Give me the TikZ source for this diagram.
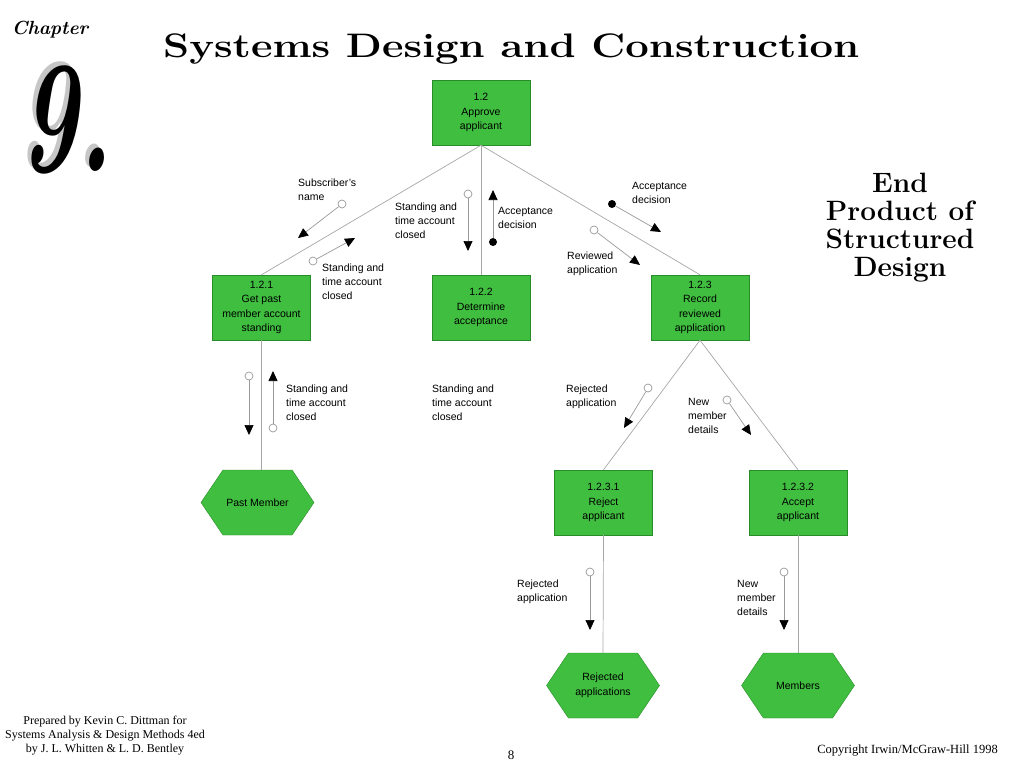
\documentclass[tikz,border=0pt]{standalone}
\usepackage{fontspec}
\setsansfont{Liberation Sans}
\newfontfamily\footfont{Liberation Serif}
\usetikzlibrary{arrows.meta,shapes.symbols}
\definecolor{procgreen}{RGB}{64,190,64}
\definecolor{edgegreen}{RGB}{40,140,40}

\begin{document}
\begin{tikzpicture}[x=1pt,y=-1pt,
    proc/.style={draw=edgegreen,fill=procgreen,minimum width=98pt,minimum height=65pt,inner sep=0pt,align=center,font=\sffamily\fontsize{10.5}{14.5}\selectfont},
    store/.style={signal,signal to=east and west,signal pointer angle=112,draw=edgegreen,fill=procgreen,minimum width=113pt,minimum height=65pt,inner sep=0pt,align=center,font=\sffamily\fontsize{10.5}{14.5}\selectfont},
    link/.style={draw=gray!70,line width=0.7pt},
    flow/.style={draw=gray!80,line width=0.7pt,-{Triangle[width=9pt,length=10pt,black]}},
    dat/.style={circle,draw=gray!80,fill=white,line width=0.7pt,minimum size=8pt,inner sep=0pt},
    ctl/.style={circle,fill=black,minimum size=8pt,inner sep=0pt},
    lbl/.style={anchor=north west,align=left,inner sep=0pt,font=\sffamily\fontsize{10.5}{14}\selectfont}]
    \useasboundingbox (0,0) rectangle (1024,768);

    % heading
    \node[inner sep=0pt,font=\fontsize{19}{19}\selectfont\bfseries\itshape] (chap) at (50,30) {Chapter};
    \node[inner sep=0pt,font=\fontsize{160}{160}\selectfont\bfseries\itshape] (nine) at (66,118) {\scalebox{0.62}[1]{\rlap{\kern-0.04em\raisebox{0.03em}{\textcolor{gray!45}{9.}}}9.}};
    \node[anchor=base west,inner sep=0pt,font=\fontsize{34}{36}\selectfont\bfseries] (title) at (163,57) {\scalebox{1.23}[1]{Systems Design and Construction}};
    \node[align=center,inner sep=0pt,font=\fontsize{28}{28}\selectfont\bfseries] (endprod) at (900,228) {End\\Product of\\Structured\\Design};

    % modules
    \node[proc] (approve) at (481,112.5) {1.2\\Approve\\applicant};
    \node[proc] (getpast) at (261.5,307.5) {1.2.1\\Get past\\member account\\standing};
    \node[proc] (determine) at (481,307.5) {1.2.2\\Determine\\acceptance};
    \node[proc] (record) at (700,307.5) {1.2.3\\Record\\reviewed\\application};
    \node[proc] (reject) at (603.5,502.5) {1.2.3.1\\Reject\\applicant};
    \node[proc] (accept) at (798,502.5) {1.2.3.2\\Accept\\applicant};
    \node[store] (pastmem) at (257.5,502.5) {Past Member};
    \node[store] (rejapps) at (603,685.5) {Rejected\\applications};
    \node[store] (members) at (798,685.5) {Members};

    \draw[link] (approve.south) -- (getpast.north);
    \draw[link] (approve.south) -- (determine.north);
    \draw[link] (approve.south) -- (record.north);
    \draw[link] (getpast.south) -- (getpast.south |- pastmem.north);
    \draw[link] (record.south) -- (reject.north);
    \draw[link] (record.south) -- (accept.north);
    \draw[link] (reject.south) -- (rejapps.north);
    \draw[link] (accept.south) -- (members.north);

    % couples
    \node[dat] (subname) at (342,204) {};
    \coordinate (subnamet) at (298,238);
    \draw[flow] (subname) -- (subnamet);
    \node[lbl] (subnamel) at (298,179) {Subscriber's\\name};

    \node[dat] (standa) at (313,261) {};
    \coordinate (standat) at (355,238);
    \draw[flow] (standa) -- (standat);
    \node[lbl] (standal) at (322,264) {Standing and\\time account\\closed};

    \node[dat] (standb) at (468,194) {};
    \coordinate (standbt) at (468,251);
    \draw[flow] (standb) -- (standbt);
    \node[lbl] (standbl) at (395,203) {Standing and\\time account\\closed};

    \node[ctl] (accda) at (493,242) {};
    \coordinate (accdat) at (493,190);
    \draw[flow] (accda) -- (accdat);
    \node[lbl] (accdal) at (498,207) {Acceptance\\decision};

    \node[ctl] (accdb) at (612,204) {};
    \coordinate (accdbt) at (661,232);
    \draw[flow] (accdb) -- (accdbt);
    \node[lbl] (accdbl) at (632,182) {Acceptance\\decision};

    \node[dat] (revapp) at (594,230) {};
    \coordinate (revappt) at (640,265);
    \draw[flow] (revapp) -- (revappt);
    \node[lbl] (revappl) at (567,252) {Reviewed\\application};

    \node[dat] (standc) at (249,376) {};
    \coordinate (standct) at (249,435);
    \draw[flow] (standc) -- (standct);
    \node[dat] (standd) at (273,428) {};
    \coordinate (standdt) at (273,371);
    \draw[flow] (standd) -- (standdt);
    \node[lbl] (standcl) at (286,385) {Standing and\\time account\\closed};
    \node[lbl] (standel) at (432,385) {Standing and\\time account\\closed};

    \node[dat] (rejappa) at (648,388) {};
    \coordinate (rejappat) at (624,428);
    \draw[flow] (rejappa) -- (rejappat);
    \node[lbl] (rejappal) at (566,385) {Rejected\\application};

    \node[dat] (newmema) at (727,400) {};
    \coordinate (newmemat) at (751,435);
    \draw[flow] (newmema) -- (newmemat);
    \node[lbl] (newmemal) at (688,398) {New\\member\\details};

    \node[dat] (rejappb) at (590,572) {};
    \coordinate (rejappbt) at (590,630);
    \draw[flow] (rejappb) -- (rejappbt);
    \node[lbl] (rejappbl) at (517,580) {Rejected\\application};

    \node[dat] (newmemb) at (784,572) {};
    \coordinate (newmembt) at (784,630);
    \draw[flow] (newmemb) -- (newmembt);
    \node[lbl] (newmembl) at (737,580) {New\\member\\details};

    % footer
    \node[align=center,inner sep=0pt,font=\footfont\fontsize{12}{14}\selectfont] (prep) at (105,736) {Prepared by Kevin C. Dittman for\\Systems Analysis \& Design Methods 4ed\\by J. L. Whitten \& L. D. Bentley};
    \node[inner sep=0pt,font=\footfont\fontsize{13}{14}\selectfont] (pagenum) at (511,755) {8};
    \node[anchor=base east,inner sep=0pt,font=\footfont\fontsize{12.5}{14}\selectfont] (copy) at (998,753) {Copyright Irwin/McGraw-Hill 1998};
\end{tikzpicture}
\end{document}
